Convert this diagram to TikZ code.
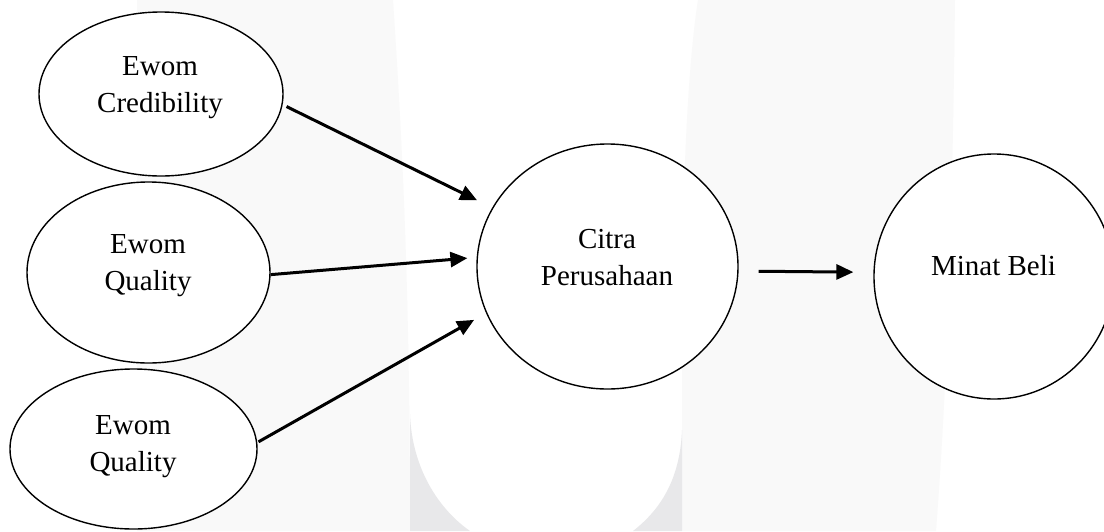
\documentclass[tikz,border=0pt]{standalone}
\usepackage{fontspec}
\setmainfont{Liberation Serif}
\usetikzlibrary{shapes.geometric,arrows.meta}
\definecolor{wmlight}{RGB}{249,249,249}
\definecolor{wmdark}{RGB}{232,232,234}
\begin{document}
\begin{tikzpicture}[x=0.5pt,y=-0.5pt,
  var/.style={ellipse,draw,line width=0.7pt,fill=white,inner sep=0pt},
  lbl/.style={font=\fontsize{14.5pt}{18.5pt}\selectfont,align=center,inner sep=0pt},
  arr/.style={line width=1.5pt,-{Triangle[length=8.5pt,width=7.5pt]}}]
\useasboundingbox (0,0) rectangle (1104,531);
\fill[white] (0,0) rectangle (1104,531);
% faint watermark
\fill[wmlight] (137,0) -- (393,0) .. controls (403,150) and (410,300) .. (410,531) -- (137,531) -- cycle;
\fill[wmlight] (698,0) -- (955,0) .. controls (952,250) and (946,400) .. (936,531) -- (682,531) -- (682,300) .. controls (683,150) and (690,50) .. (698,0) -- cycle;
\fill[wmdark] (410,414) .. controls (412,470) and (440,510) .. (470,531) -- (410,531) -- cycle;
\fill[wmdark] (682,430) .. controls (680,480) and (660,510) .. (633,531) -- (682,531) -- cycle;
% variables
\node[var,minimum width=122pt,minimum height=82pt] (e1) at (161,94) {};
\node[var,minimum width=121.5pt,minimum height=90.5pt] (e2) at (148.5,272.5) {};
\node[var,minimum width=123.5pt,minimum height=80pt] (e3) at (133.5,449) {};
\node[var,minimum width=130.5pt,minimum height=122.5pt] (cp) at (607.5,266.5) {};
\node[var,minimum width=120pt,minimum height=122.5pt] (mb) at (994,276.5) {};
% labels
\node[lbl] (t1) at (160,88) {Ewom\\Credibility};
\node[lbl] (t2) at (148,266) {Ewom\\Quality};
\node[lbl] (t3) at (133,447) {Ewom\\Quality};
\node[lbl] (t4) at (607,257.5) {Citra\\Perusahaan};
\node[lbl] (t5) at (993.5,266) {Minat Beli};
% arrows
\draw[arr,shorten <=2.15pt,shorten >=8.4pt] (e1.-5.5) -- (cp.153.7);
\draw[arr,shorten >=4.65pt] (e2.-1.2) -- (cp.176.9);
\draw[arr,shorten <=0.7pt,shorten >=6.85pt] (e3.3.2) -- (cp.201.1);
\draw[arr,shorten <=10pt,shorten >=10pt] (cp.-2.5) -- (mb.178.6);
\end{tikzpicture}
\end{document}
